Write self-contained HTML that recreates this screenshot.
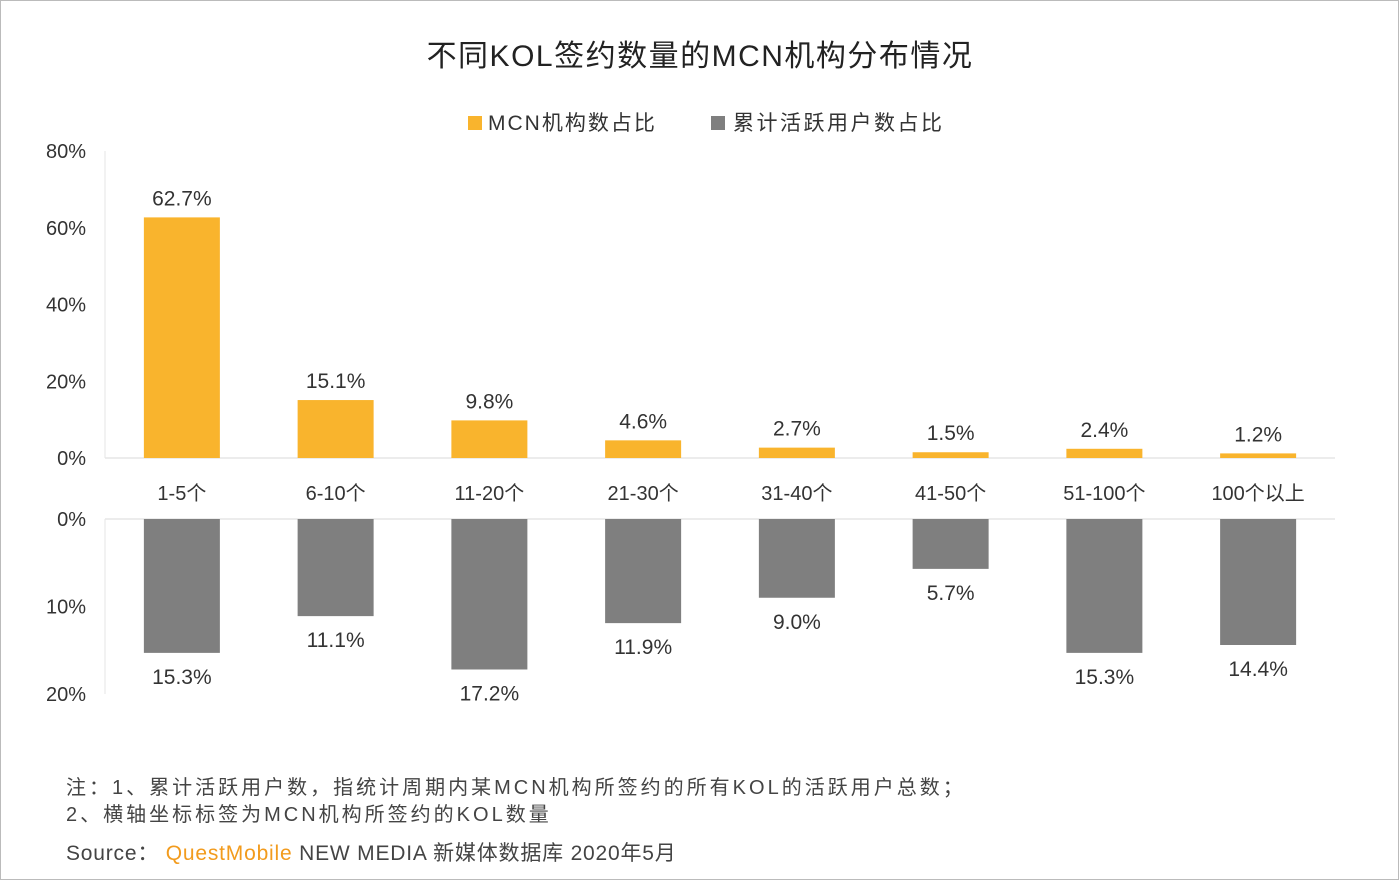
<!DOCTYPE html>
<html><head><meta charset="utf-8">
<style>
body{margin:0;width:1399px;height:880px;background:#fff;overflow:hidden;font-family:"Liberation Sans","Noto Sans CJK SC",sans-serif;}
svg text{font-family:"Liberation Sans","Noto Sans CJK SC",sans-serif;}
</style></head><body>
<svg id="c" width="1399" height="880">
<rect x="0.5" y="0.5" width="1398" height="879" fill="#fff" stroke="#bbb"/>
<text x="700" y="66" text-anchor="middle" font-size="30" fill="#222" letter-spacing="1.5">不同KOL签约数量的MCN机构分布情况</text>
<g>
<rect x="468" y="116" width="14" height="14" fill="#F9B42D"/>
<text x="488" y="130" font-size="21" fill="#333" letter-spacing="2">MCN机构数占比</text>
<rect x="711" y="116" width="14" height="14" fill="#7f7f7f"/>
<text x="733" y="130" font-size="21" fill="#333" letter-spacing="2.5">累计活跃用户数占比</text>
</g>
<g id="plot"></g>
<text x="66" y="794" font-size="20" fill="#444" letter-spacing="3">注：1、累计活跃用户数，指统计周期内某MCN机构所签约的所有KOL的活跃用户总数；</text>
<text x="66" y="821" font-size="20" fill="#444" letter-spacing="3">2、横轴坐标标签为MCN机构所签约的KOL数量</text>
<text x="66" y="860" font-size="21" fill="#444" letter-spacing="0.8">Source： <tspan fill="#F29B1D">QuestMobile</tspan> NEW MEDIA 新媒体数据库 2020年5月</text>
</svg>
<script>
const categories=["1-5个","6-10个","11-20个","21-30个","31-40个","41-50个","51-100个","100个以上"];
const mcnShare=[62.7,15.1,9.8,4.6,2.7,1.5,2.4,1.2];
const userShare=[15.3,11.1,17.2,11.9,9.0,5.7,15.3,14.4];
const topTicks=[0,20,40,60,80];
const bottomTicks=[0,10,20];
const NS="http://www.w3.org/2000/svg";
const g=document.getElementById('plot');
function mk(t,a,txt){const e=document.createElementNS(NS,t);for(const k in a)e.setAttribute(k,a[k]);if(txt!==undefined)e.textContent=txt;g.appendChild(e);return e;}
const x0=105,step=153.75,bw=76;
const xc=i=>x0+step*(i+0.5);
const yTop=v=>458-v*(307/80);
const yBot=v=>519+v*(175/20);
let e=mk('line',{x1:x0,x2:1335,y1:458,y2:458,stroke:'#d9d9d9'});


e=mk('line',{x1:x0,x2:x0,y1:151,y2:458,stroke:'#e6e6e6'});


e=mk('line',{x1:x0,x2:1335,y1:519,y2:519,stroke:'#d9d9d9'});


e=mk('line',{x1:x0,x2:x0,y1:519,y2:694,stroke:'#e6e6e6'});


topTicks.forEach(t=>{e=mk('text',{x:86,y:yTop(t)+7,'text-anchor':'end','font-size':20,fill:'#333'},t+'%');

});
bottomTicks.forEach(t=>{e=mk('text',{x:86,y:yBot(t)+7,'text-anchor':'end','font-size':20,fill:'#333'},t+'%');

});
categories.forEach((c,i)=>{
 const x=xc(i);
 e=mk('text',{x:x,y:500,'text-anchor':'middle','font-size':20,fill:'#333'},c);
 
 
 const yt=yTop(mcnShare[i]);
 e=mk('rect',{x:x-bw/2,y:yt,width:bw,height:458-yt,fill:'#F9B42D'});
 
 
 e=mk('text',{x:x,y:yt-12,'text-anchor':'middle','font-size':21,fill:'#333'},mcnShare[i].toFixed(1)+'%');
 
 
 const yb=yBot(userShare[i]);
 e=mk('rect',{x:x-bw/2,y:519,width:bw,height:yb-519,fill:'#7f7f7f'});
 
 
 e=mk('text',{x:x,y:yb+31,'text-anchor':'middle','font-size':21,fill:'#333'},userShare[i].toFixed(1)+'%');
 
 
});
</script>
</body></html>
